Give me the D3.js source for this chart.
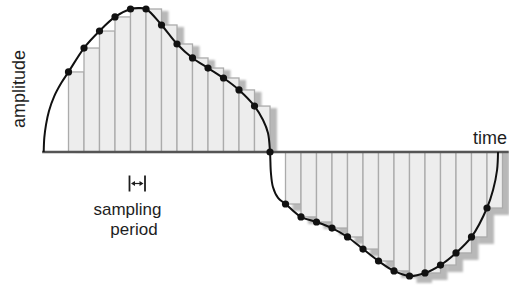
<!DOCTYPE html>
<html>
<head>
<meta charset="utf-8">
<script src="https://cdn.jsdelivr.net/npm/d3@7"></script>
<style>
  html, body { margin: 0; padding: 0; background: #fff; }
  svg { display: block; }
  text { font-family: "Liberation Sans", Arial, Helvetica, sans-serif; fill: #1e1e1e; }
</style>
</head>
<body>
<svg id="chart" width="509" height="286"></svg>
<script>
// ---- data (time in sampling periods, amplitude in -1..1) ----
const sampleTime = [0, 1, 2, 3, 4, 5, 6, 7, 8, 9, 10, 11, 12, 13,
                    14, 15, 16, 17, 18, 19, 20, 21, 22, 23, 24, 25, 26, 27];
const sampleAmp  = [0.556, 0.722, 0.840, 0.938, 0.993, 0.993, 0.882, 0.750, 0.653, 0.583, 0.514, 0.431, 0.319, 0.0,
                    -0.361, -0.451, -0.486, -0.528, -0.590, -0.674, -0.757, -0.826, -0.861, -0.840, -0.785, -0.701, -0.590, -0.389];
// continuous (analog) signal
const signalTime = [-1.60, -1.56, -1.45, -1.26, -0.93, -0.45, 0, 1, 2, 3, 4, 4.5, 5, 6, 7, 8, 9, 10, 11, 12,
                    12.55, 12.87, 13, 13.06, 13.19, 13.52, 14, 15, 16, 17, 18, 19, 20, 21, 22, 23, 24, 25, 26, 27,
                    27.39, 27.65, 27.71];
const signalAmp  = [0, 0.100, 0.190, 0.285, 0.385, 0.482, 0.556, 0.722, 0.840, 0.938, 0.993, 1.0, 0.993, 0.882, 0.750, 0.653, 0.583, 0.514, 0.431, 0.319,
                    0.222, 0.132, 0, -0.146, -0.243, -0.319, -0.361, -0.451, -0.486, -0.528, -0.590, -0.674, -0.757, -0.826, -0.861, -0.840, -0.785, -0.701, -0.590, -0.389,
                    -0.264, -0.125, 0];
const axisTimeRange = [-1.7, 28.4];
const labels = { y: "amplitude", x: "time", period: ["sampling", "period"] };

// ---- scales ----
const x = d3.scaleLinear().domain([0, 27]).range([68.5, 487]);
const y = d3.scaleLinear().domain([-1, 1]).range([296, 8]);
const step = x(1) - x(0);

const svg = d3.select("#chart");
const defs = svg.append("defs");
defs.append("filter").attr("id", "blur").attr("x", "-20%").attr("y", "-20%").attr("width", "140%").attr("height", "140%")
  .append("feGaussianBlur").attr("stdDeviation", 1.3);

const samples = sampleTime.map((t, i) => ({ t, a: sampleAmp[i] }));
const held = samples.filter(d => d.a !== 0);

// shadows of the held steps
svg.append("g").attr("filter", "url(#blur)")
  .selectAll("rect").data(held).join("rect")
  .attr("x", d => x(d.t) + 7)
  .attr("width", step)
  .attr("y", d => d.a > 0 ? y(d.a) + 2 : y(0))
  .attr("height", d => d.a > 0 ? y(0) - y(d.a) - 2 : y(d.a) - y(0) + 7)
  .attr("fill", "#b8b8b8");

// held (zero-order hold) steps
svg.append("g")
  .selectAll("rect").data(held).join("rect")
  .attr("x", d => x(d.t))
  .attr("width", step)
  .attr("y", d => Math.min(y(d.a), y(0)))
  .attr("height", d => Math.abs(y(d.a) - y(0)))
  .attr("fill", "#ededed")
  .attr("stroke", "#ababab")
  .attr("stroke-width", 1.3);

// time axis
svg.append("line")
  .attr("x1", x(axisTimeRange[0])).attr("x2", x(axisTimeRange[1]))
  .attr("y1", y(0)).attr("y2", y(0))
  .attr("stroke", "#555").attr("stroke-width", 2.5);

// analog signal
const signal = signalTime.map((t, i) => ({ t, a: signalAmp[i] }));
svg.append("path").datum(signal)
  .attr("d", d3.line().x(d => x(d.t)).y(d => y(d.a)).curve(d3.curveCatmullRom.alpha(0.5)))
  .attr("fill", "none").attr("stroke", "#111").attr("stroke-width", 2);

// sample points
svg.append("g").selectAll("circle").data(samples).join("circle")
  .attr("cx", d => x(d.t)).attr("cy", d => y(d.a)).attr("r", 3.6)
  .attr("fill", "#111");

// labels
svg.append("text")
  .attr("transform", "translate(25,89) rotate(-90)")
  .attr("text-anchor", "middle").attr("font-size", 18)
  .text(labels.y);
svg.append("text")
  .attr("x", 507).attr("y", 144).attr("text-anchor", "end").attr("font-size", 18)
  .text(labels.x);
svg.append("text")
  .attr("x", 127.5).attr("y", 215).attr("text-anchor", "middle").attr("font-size", 17)
  .text(labels.period[0]);
svg.append("text")
  .attr("x", 134).attr("y", 235).attr("text-anchor", "middle").attr("font-size", 17)
  .text(labels.period[1]);

// sampling-period bracket |<->|
const bx0 = 129.5, bx1 = bx0 + step, by0 = 175.5, by1 = 191.5, bym = 183.5;
const br = svg.append("g").attr("stroke", "#1e1e1e").attr("fill", "none");
br.append("line").attr("x1", bx0).attr("x2", bx0).attr("y1", by0).attr("y2", by1).attr("stroke-width", 1.8);
br.append("line").attr("x1", bx1).attr("x2", bx1).attr("y1", by0).attr("y2", by1).attr("stroke-width", 1.8);
br.append("line").attr("x1", bx0 + 3).attr("x2", bx1 - 3).attr("y1", bym).attr("y2", bym).attr("stroke-width", 1.2);
svg.append("path")
  .attr("d", `M${bx0 + 1.5},${bym} l4,-2.6 l0,5.2 Z M${bx1 - 1.5},${bym} l-4,-2.6 l0,5.2 Z`)
  .attr("fill", "#1e1e1e");
</script>
</body>
</html>
